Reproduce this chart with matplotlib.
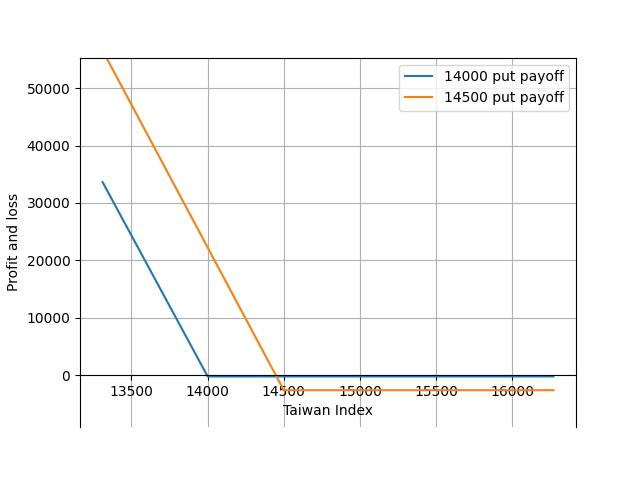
import matplotlib
matplotlib.use("Agg")
import matplotlib.pyplot as plt

# Taiwan index levels and P&L
index_14000 = [13310, 14000, 16270]
pnl_14000 = [33650, -250, -250]

index_14500 = [13310, 14500, 16270]
pnl_14500 = [56600, -2650, -2650]

fig, ax = plt.subplots(figsize=(6.4, 4.8), dpi=100)

ax.plot(index_14000, pnl_14000, label="14000 put payoff")
ax.plot(index_14500, pnl_14500, label="14500 put payoff")

ax.set_ylim(-9100, 55350)
ax.spines["bottom"].set_position("zero")

ax.set_xlabel("Taiwan Index")
ax.set_ylabel("Profit and loss")
ax.grid(True)
ax.legend(loc="upper right")

fig.savefig("out.png")
